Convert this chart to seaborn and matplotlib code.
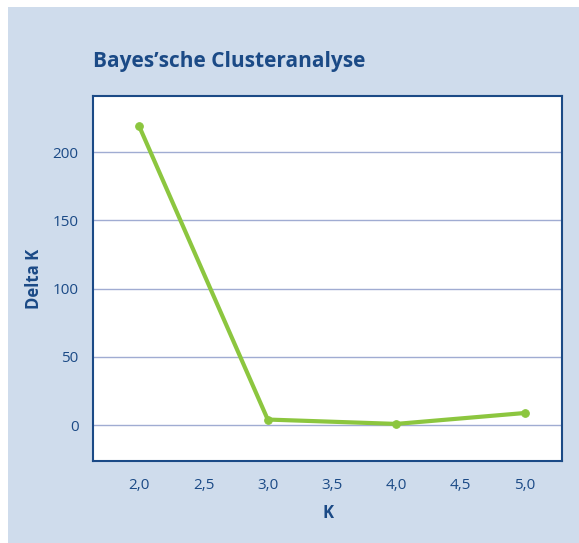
import pandas as pd
import seaborn as sns
import matplotlib.pyplot as plt
from matplotlib.patches import Rectangle
from matplotlib.ticker import FuncFormatter

# data
k_values = [2, 3, 4, 5]
delta_k = [219.0, 4.0, 0.8, 8.8]

df = pd.DataFrame({'K': k_values, 'Delta K': delta_k})

navy = '#1b4a86'
green = '#8cc63f'

sns.set_style('white')
plt.rcParams['font.family'] = ['Open Sans', 'DejaVu Sans']

fig = plt.figure(figsize=(5.79, 5.43), dpi=100)
fig.patch.set_facecolor('white')
fig.patches.append(Rectangle((8 / 579, 0), 1, 536 / 543, transform=fig.transFigure,
                             facecolor='#cfdcec', edgecolor='none', zorder=-10))

ax = fig.add_axes([93 / 579, 1 - 461 / 543, 469 / 579, 365 / 543])
ax.set_facecolor('white')

sns.lineplot(data=df, x='K', y='Delta K', ax=ax, color=green, linewidth=3,
             marker='o', markersize=5.5, markeredgecolor=green, zorder=3)

ax.set_xlim(1.64, 5.29)
ax.set_ylim(-26.4, 241.3)
ax.set_xticks([2.0, 2.5, 3.0, 3.5, 4.0, 4.5, 5.0])
ax.set_yticks([0, 50, 100, 150, 200])
ax.xaxis.set_major_formatter(FuncFormatter(lambda v, p: f'{v:.1f}'.replace('.', ',')))
ax.yaxis.grid(True, color='#a0acd2', linewidth=1)
ax.set_axisbelow(True)

for s in ax.spines.values():
    s.set_color(navy)
    s.set_linewidth(1.5)

ax.tick_params(axis='both', direction='out', length=7, width=1.5, color=navy,
               labelcolor=navy, labelsize=11)
ax.tick_params(axis='x', pad=5)

ax.set_xlabel('K', color=navy, fontsize=12, fontweight='bold', labelpad=8)
ax.set_ylabel('Delta K', color=navy, fontsize=12, fontweight='bold', labelpad=7)

fig.text(93 / 579, 1 - 67 / 543, 'Bayes\u2019sche Clusteranalyse', color=navy,
         fontsize=15, fontweight='bold', ha='left', va='baseline')

fig.savefig('out.png', dpi=100)
